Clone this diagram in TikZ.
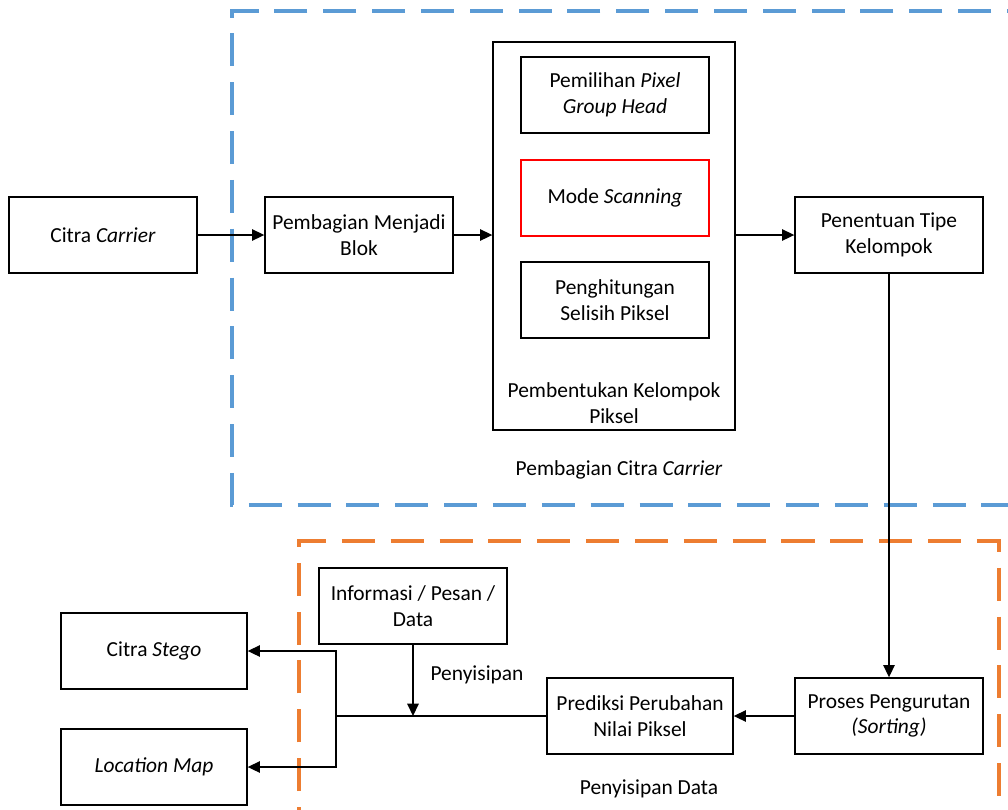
\documentclass[tikz,border=0pt]{standalone}
\usepackage{fontspec}
\setmainfont{Carlito}
\usetikzlibrary{arrows.meta}
\definecolor{dblue}{HTML}{5B9BD5}
\definecolor{dorange}{HTML}{ED7D31}
\definecolor{dred}{HTML}{FF0000}
\tikzset{
  every node/.style={font=\fontsize{12.2}{14.5}\selectfont},
  box/.style={draw=black, line width=0.8pt, minimum width=3.76cm, minimum height=1.52cm, align=center, inner sep=1pt},
  redbox/.style={box, draw=dred, line width=1.3pt},
  arr/.style={line width=0.8pt, -{Triangle[length=7pt,width=6.5pt]}},
  ln/.style={line width=0.8pt},
  bluedash/.style={draw=dblue, line width=2.3pt, dash pattern=on 18.8pt off 9pt},
  orangedash/.style={draw=dorange, line width=2.3pt, dash pattern=on 18.8pt off 9pt},
  lbl/.style={align=center, inner sep=0pt}
}
\begin{document}
\begin{tikzpicture}[x=0.02cm,y=-0.02cm]
\useasboundingbox (0,0) rectangle (1008,809);
\begin{scope}
\clip (0,0) rectangle (1008,809);
\draw[bluedash] (1040,11) -- (232,11) -- (232,505) -- (1040,505);
\draw[orangedash] (299,840) -- (299,541) -- (999,541) -- (999,840);
\end{scope}

\node[box] (carrier) at (103,235) {Citra \textit{Carrier}};
\node[box] (blok) at (359,235) {Pembagian Menjadi\\Blok};
\node[draw=black, line width=0.8pt, minimum width=4.84cm, minimum height=7.76cm] (big) at (614,236) {};
\node[box] (pghead) at (615,95) {Pemilihan \textit{Pixel}\\\textit{Group Head}};
\node[redbox] (scan) at (615,198) {Mode \textit{Scanning}};
\node[box] (selisih) at (615,300) {Penghitungan\\Selisih Piksel};
\node[lbl] (biglbl) at (614,403) {Pembentukan Kelompok\\Piksel};
\node[box] (tipe) at (889,235) {Penentuan Tipe\\Kelompok};
\node[lbl] (bluelbl) at (619,470) {Pembagian Citra \textit{Carrier}};

\node[box] (sorting) at (889,716) {Proses Pengurutan\\\textit{(Sorting)}};
\node[box, minimum width=3.72cm] (prediksi) at (640,716) {Prediksi Perubahan\\Nilai Piksel};
\node[box] (info) at (413,606) {Informasi / Pesan /\\Data};
\node[box, minimum width=3.72cm] (stego) at (154,651) {Citra \textit{Stego}};
\node[box, minimum width=3.72cm] (locmap) at (154,767) {\textit{Location Map}};
\node[lbl] (peny) at (477,675) {Penyisipan};
\node[lbl] (orlbl) at (649,789) {Penyisipan Data};
\coordinate (j) at (336,716);

\draw[arr] (carrier) -- (blok);
\draw[arr] (blok.east) -- (blok.east -| big.west);
\draw[arr] (big.east |- tipe) -- (tipe);
\draw[arr] (tipe) -- (sorting);
\draw[arr] (sorting) -- (prediksi);
\draw[ln] (prediksi.west) -- (j);
\draw[arr] (info) -- (info.south |- j);
\draw[arr] (j) |- (stego.east);
\draw[arr] (j) |- (locmap.east);
\end{tikzpicture}
\end{document}
